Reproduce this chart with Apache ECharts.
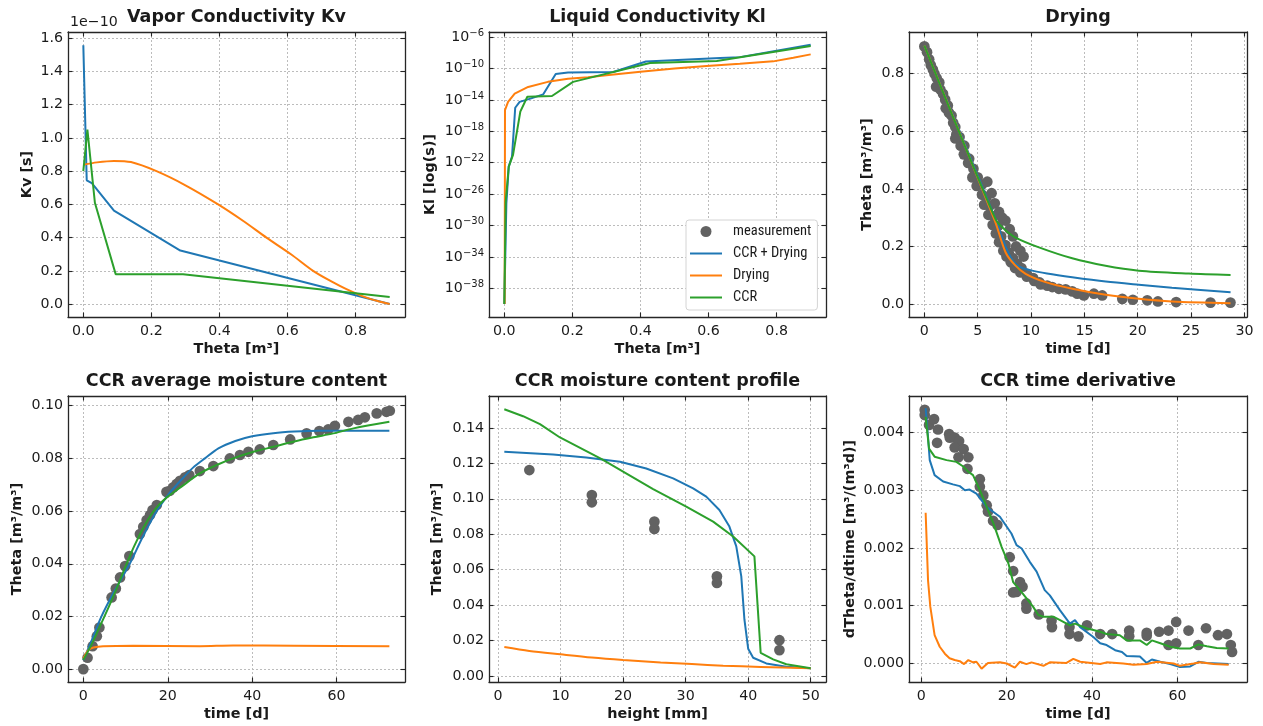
<!DOCTYPE html>
<html>
<head>
<meta charset="utf-8">
<title>CCR / Drying fits</title>
<script src="https://cdn.jsdelivr.net/npm/echarts@6/dist/echarts.min.js"></script>
<style>
    html, body {margin: 0; padding: 0; background: #fff;}
    #chartBox {width: 1263px; height: 726px;}
</style>
</head>
<body>
<div id="chartBox"></div>
<script>
/* ---------- tick values ---------- */
var thetaTicks = [0, 0.2, 0.4, 0.6, 0.8];
var kvTicks = [0, 0.2, 0.4, 0.6, 0.8, 1.0, 1.2, 1.4, 1.6];
var klExpTicks = [-38, -34, -30, -26, -22, -18, -14, -10, -6];
var dryTimeTicks = [0, 5, 10, 15, 20, 25, 30];
var dryThetaTicks = [0, 0.2, 0.4, 0.6, 0.8];
var ccrTimeTicks = [0, 20, 40, 60];
var avgThetaTicks = [0, 0.02, 0.04, 0.06, 0.08, 0.10];
var heightTicks = [0, 10, 20, 30, 40, 50];
var profThetaTicks = [0, 0.02, 0.04, 0.06, 0.08, 0.10, 0.12, 0.14];
var derivTicks = [0, 0.001, 0.002, 0.003, 0.004];

/* ---------- Vapor conductivity Kv (x1e-10) ---------- */
var kvCcrDrying = [[0, 1.558], [0.01, 0.745], [0.025, 0.728], [0.09, 0.563], [0.285, 0.322], [0.9, 0.0]];
var kvDrying = [[0, 0.838], [0.04, 0.853], [0.09, 0.862], [0.14, 0.855], [0.215, 0.8], [0.3, 0.715], [0.396, 0.6],
    [0.47, 0.5], [0.538, 0.4], [0.61, 0.3], [0.675, 0.2], [0.73, 0.135], [0.773, 0.09], [0.83, 0.04], [0.87, 0.015], [0.9, 0.0]];
var kvCcr = [[0, 0.80], [0.012, 1.05], [0.034, 0.61], [0.095, 0.18], [0.293, 0.18], [0.9, 0.042]];

/* ---------- Liquid conductivity Kl (log10 exponent) ---------- */
var klCcrDrying = [[0, -40], [0.006, -27.2], [0.013, -22.5], [0.0226, -21.2], [0.032, -15], [0.045, -14.25], [0.079, -13.8],
    [0.114, -13.3], [0.151, -10.7], [0.187, -10.5], [0.32, -10.45], [0.416, -9.1], [0.634, -8.67], [0.692, -8.55], [0.9, -6.97]];
var klDrying = [[0.001, -40], [0.002, -15.3], [0.011, -14.25], [0.0305, -13.2], [0.07, -12.35], [0.128, -11.7], [0.187, -11.3],
    [0.246, -11.1], [0.3, -10.87], [0.4, -10.4], [0.5, -10.0], [0.594, -9.68], [0.692, -9.39], [0.79, -9.09], [0.849, -8.62], [0.9, -8.2]];
var klCcr = [[0, -40], [0.004, -27], [0.013, -22.5], [0.0256, -21], [0.047, -15.5], [0.0676, -13.6], [0.14, -13.5],
    [0.202, -11.7], [0.428, -9.3], [0.624, -9.05], [0.9, -7.14]];

/* ---------- Drying ---------- */
var dryMeasured = [[0, 0.895], [0.25, 0.875], [0.45, 0.85], [0.6, 0.83], [0.8, 0.815], [0.95, 0.8], [1.15, 0.785], [1.4, 0.77],
    [1.5, 0.745], [1.75, 0.73], [1.95, 0.71], [2.2, 0.69], [2.3, 0.665], [2.55, 0.655], [2.7, 0.63], [2.9, 0.615], [3.0, 0.59],
    [3.3, 0.58], [3.4, 0.55], [3.75, 0.55], [3.7, 0.52], [4.2, 0.505], [4.1, 0.49], [4.6, 0.47], [4.5, 0.44], [5.0, 0.44],
    [4.9, 0.41], [5.4, 0.415], [5.4, 0.38], [5.8, 0.37], [5.6, 0.345], [6.1, 0.34], [6.0, 0.31], [6.5, 0.305], [6.4, 0.275],
    [6.9, 0.27], [6.7, 0.245], [7.2, 0.235], [7.6, 0.29], [8.0, 0.26], [8.3, 0.235], [7.0, 0.215], [7.6, 0.205], [8.6, 0.2],
    [7.4, 0.185], [7.9, 0.18], [9.0, 0.185], [7.7, 0.165], [8.3, 0.16], [9.3, 0.165], [8.1, 0.145], [8.7, 0.14], [8.5, 0.125],
    [9.1, 0.125], [9.0, 0.11], [9.6, 0.105], [9.6, 0.095], [10.2, 0.09], [10.3, 0.08], [10.8, 0.075], [10.9, 0.068],
    [5.9, 0.425], [6.3, 0.385], [6.6, 0.35], [7.0, 0.32], [7.3, 0.3], [1.1, 0.755], [2.0, 0.68], [2.9, 0.575],
    [11.52, 0.064], [11.99, 0.059], [12.61, 0.053], [13.24, 0.051], [13.86, 0.044], [14.33, 0.036], [14.95, 0.03],
    [15.89, 0.036], [16.67, 0.03], [18.55, 0.018], [19.54, 0.015], [20.89, 0.013], [21.89, 0.009], [23.6, 0.007],
    [26.82, 0.005], [28.69, 0.005]];
var dryCcrDrying = [[0, 0.898], [6.68, 0.294], [7.6, 0.2], [8.3, 0.15], [8.9, 0.13], [10, 0.117], [11.5, 0.106], [13.86, 0.093],
    [17, 0.078], [20.1, 0.067], [23.2, 0.057], [28.7, 0.041]];
var dryDrying = [[0, 0.898], [6.6, 0.29], [7.62, 0.179], [8.5, 0.135], [9.49, 0.105], [11.36, 0.076], [13.86, 0.053], [17, 0.032],
    [20.1, 0.018], [23.2, 0.009], [28.7, 0.003]];
var dryCcr = [[0, 0.898], [6.68, 0.294], [7.5, 0.26], [8.55, 0.231], [10.74, 0.197], [13.86, 0.159], [16.98, 0.133],
    [20.1, 0.116], [24.8, 0.106], [28.7, 0.101]];

/* ---------- CCR average moisture content ---------- */
var avgMeasured = [[0, 0.0], [1, 0.0043], [2.2, 0.0087], [3.2, 0.0125], [3.8, 0.0158], [6.7, 0.0272], [7.7, 0.0306], [8.7, 0.0348],
    [9.9, 0.0391], [10.9, 0.0429], [13.4, 0.0513], [14.2, 0.054], [15, 0.0566], [15.8, 0.0585], [16.4, 0.0604], [17.4, 0.0623],
    [19.7, 0.0673], [20.5, 0.0677], [21.3, 0.069], [22.1, 0.0703], [22.9, 0.0715], [24.1, 0.0728], [25.1, 0.0737], [27.6, 0.0752],
    [30.8, 0.0771], [34.7, 0.08], [37.1, 0.0813], [39.1, 0.0825], [41.8, 0.0834], [45, 0.0851], [49, 0.0872], [52.9, 0.0895],
    [55.9, 0.0904], [58, 0.091], [59.6, 0.0924], [62.8, 0.0939], [65.1, 0.0946], [66.7, 0.0956], [69.5, 0.0971], [71.8, 0.0977],
    [72.6, 0.0981]];
var avgCcrDrying = [[0, 0.0034], [2, 0.011], [4.3, 0.02], [7.5, 0.03], [11, 0.04], [14, 0.05], [17.4, 0.06], [20, 0.066],
    [23, 0.0715], [26, 0.0765], [28.8, 0.08], [32, 0.0838], [36, 0.0866], [40, 0.0884], [45, 0.0896], [50, 0.0902],
    [56, 0.0905], [72.5, 0.0905]];
var avgDrying = [[0, 0.004], [1.2, 0.0072], [2.4, 0.0082], [4.7, 0.0087], [11.8, 0.0089], [27.6, 0.0087], [35.5, 0.009],
    [50, 0.0089], [72.5, 0.0087]];
var avgCcr = [[0, 0.0035], [2, 0.0095], [4, 0.0165], [6, 0.0235], [8, 0.031], [10, 0.039], [12, 0.0465], [14, 0.053],
    [16, 0.0585], [18, 0.0625], [20, 0.0655], [23, 0.069], [27.6, 0.0743], [31.6, 0.0775], [35.5, 0.08], [40.3, 0.0825],
    [45, 0.0844], [49.7, 0.0863], [54.5, 0.088], [59.2, 0.0895], [64, 0.0914], [72.5, 0.0939]];

/* ---------- CCR moisture content profile ---------- */
var profMeasured = [[5, 0.1162], [15, 0.1021], [15, 0.098], [25, 0.0871], [25, 0.083], [35, 0.0562], [35, 0.0525],
    [45, 0.0202], [45, 0.0146]];
var profCcrDrying = [[1, 0.1265], [8.8, 0.125], [14.1, 0.1233], [19.5, 0.1209], [23.7, 0.1171], [28, 0.1115], [31.2, 0.1059],
    [33.3, 0.1012], [35.4, 0.0937], [37, 0.0843], [38.1, 0.0731], [38.9, 0.0562], [39.4, 0.0319], [40, 0.0154], [40.8, 0.0103],
    [42.9, 0.0071], [46.1, 0.0052], [50, 0.0043]];
var profDrying = [[1, 0.0163], [5, 0.0141], [10, 0.0122], [15, 0.0104], [20, 0.009], [26, 0.0076], [31, 0.0067], [36, 0.0058],
    [42, 0.0051], [50, 0.0043]];
var profCcr = [[1, 0.1505], [4, 0.1466], [6.7, 0.1421], [9.9, 0.1346], [16.5, 0.1225], [24.8, 0.1055], [30.1, 0.0956],
    [34.4, 0.0871], [37.6, 0.0787], [41, 0.0675], [42, 0.0131], [44, 0.0094], [46.1, 0.0066], [50, 0.0043]];

/* ---------- CCR time derivative ---------- */
var derivMeasured = [[0.78, 0.00439], [0.78, 0.0043], [1.8, 0.00413], [2.97, 0.00423], [3.9, 0.00405], [3.68, 0.00382],
    [6.5, 0.00397], [6.65, 0.00391], [7.8, 0.00391], [8.84, 0.00385], [7.8, 0.00374], [9.9, 0.00371], [8.7, 0.00357],
    [11, 0.00357], [10.8, 0.00337], [13.7, 0.00319], [13.7, 0.00306], [14.5, 0.00291], [15.3, 0.00274], [15.6, 0.00263],
    [16.8, 0.00247], [17.8, 0.0024], [20.7, 0.00184], [21.5, 0.0016], [21.5, 0.00123], [22.3, 0.00124], [23.1, 0.00141],
    [23.7, 0.00133], [24.6, 0.00104], [24.6, 0.00095], [27.5, 0.00085], [30.5, 0.00074], [30.6, 0.00063], [34.7, 0.00063],
    [34.7, 0.00051], [36.8, 0.00047], [38.8, 0.00066], [41.9, 0.00051], [44.7, 0.00051], [48.7, 0.00057], [48.7, 0.00047],
    [52.8, 0.00053], [52.8, 0.00048], [55.7, 0.00055], [57.9, 0.00057], [57.9, 0.00032], [59.7, 0.00072], [59.7, 0.00035],
    [62.6, 0.00057], [64.9, 0.00032], [66.7, 0.00061], [69.5, 0.00049], [71.6, 0.00051], [72.5, 0.00032], [72.8, 0.0002]];
var derivCcrDrying = [[1, 0.00442], [1.56, 0.00392], [1.96, 0.00352], [3.1, 0.00326], [5.1, 0.00315], [7.4, 0.0031], [9, 0.00307],
    [10.2, 0.003], [11.3, 0.00301], [12.9, 0.00294], [15.3, 0.00271], [18.4, 0.00254], [21.1, 0.00225], [22.3, 0.00205],
    [23.5, 0.00199], [25.4, 0.00176], [27, 0.00159], [28.9, 0.00127], [30.1, 0.00118], [32.5, 0.00092], [34.8, 0.00069],
    [36, 0.00075], [37.2, 0.00063], [40.3, 0.00046], [41.9, 0.00035], [43.4, 0.00032], [45.4, 0.00023], [47, 0.0002],
    [48.1, 0.00013], [51.2, 0.00012], [52.8, 0.00001], [54, 0.00007], [56, 0.00003], [58.3, -0.00001], [60.6, -0.00006],
    [63, -0.00005], [64.9, 0.00003], [66.9, 0.00001], [72, -0.00001]];
var derivDrying = [[1, 0.00261], [1.56, 0.00144], [2.1, 0.00098], [3.1, 0.00049], [4.3, 0.00029], [5.5, 0.00017], [6.6, 0.00009],
    [7.8, 0.00006], [9, 0.00004], [10, -0.00001], [11, 0.00006], [12.1, 0.00002], [12.9, 0.00003], [14.1, -0.00009],
    [15.6, 0.00001], [18.4, 0.00002], [20, 0.0], [21.9, -0.00007], [23.1, 0.00003], [24.6, -0.00001], [25.8, 0.00002],
    [28.6, -0.00004], [30.1, 0.00002], [34, 0.00001], [35.6, 0.00008], [37.2, 0.00003], [41.9, -0.00001], [43.4, 0.00002],
    [47.3, 0], [49.7, -0.00002], [52.8, -0.00001], [55.2, 0.00003], [59.1, 0], [60.6, -0.00004], [63.8, 0], [65.3, 0.00002],
    [68.5, -0.00001], [72, -0.00002]];
var derivCcr = [[1, 0.00427], [1.8, 0.00372], [3.1, 0.00358], [5.9, 0.00352], [8.2, 0.00349], [9.8, 0.00341], [11, 0.00332],
    [12.1, 0.00326], [13.7, 0.003], [15.3, 0.00271], [16.9, 0.00242], [18.8, 0.00202], [20.4, 0.00173], [21.5, 0.00141],
    [23.1, 0.00127], [24.6, 0.00113], [26.2, 0.00098], [27.4, 0.00084], [28.6, 0.00081], [30.9, 0.00081], [32.5, 0.00075],
    [34.8, 0.00066], [36, 0.00069], [38.7, 0.00061], [41.9, 0.00055], [43.4, 0.00051], [46.5, 0.00049], [48.1, 0.0004],
    [51.2, 0.0004], [52.8, 0.00032], [54, 0.0004], [56, 0.00035], [58.3, 0.00029], [60.6, 0.00026], [63, 0.00026],
    [64.9, 0.00033], [66.9, 0.0003], [69.2, 0.00027], [72, 0.00026]];

(function(){
    var FONT = 'DejaVu Sans',
        FRAME = '#262626',
        TXT = '#1a1a1a',
        C_BLUE = '#1f77b4', C_ORANGE = '#ff7f0e', C_GREEN = '#2ca02c', C_DOT = '#626262';

    function fixed(d){
        return function(v){ return Number(v).toFixed(d); };
    }

    // 10 with a raised exponent (rich text)
    function pow10(v){
        return '{b|10}{e|' + String(Math.round(v)).replace('-', '−') + '}';
    }

    var _panels = [
        {title: 'Vapor Conductivity Kv', box: [68, 32, 337, 285], x: [-0.045, 0.945], y: [-0.078, 1.638],
            xTicks: thetaTicks, yTicks: kvTicks, xFmt: fixed(1), yFmt: fixed(1), xName: 'Theta [m³]', yName: 'Kv [s]', yGap: 34,
            lines: [kvCcrDrying, kvDrying, kvCcr], smooth: [false, 0.3, false]},
        {title: 'Liquid Conductivity Kl', box: [489, 32, 337, 285], x: [-0.045, 0.945], y: [-41.65, -5.35],
            xTicks: thetaTicks, yTicks: klExpTicks, xFmt: fixed(1), yFmt: pow10, xName: 'Theta [m³]', yName: 'Kl [log(s)]', yGap: 52,
            lines: [klCcrDrying, klDrying, klCcr], smooth: [false, false, false]},
        {title: 'Drying', box: [909, 32, 338, 285], x: [-1.44, 30.24], y: [-0.045, 0.945],
            xTicks: dryTimeTicks, yTicks: dryThetaTicks, xFmt: fixed(0), yFmt: fixed(1), xName: 'time [d]', yName: 'Theta [m³/m³]', yGap: 35,
            dots: dryMeasured, lines: [dryCcrDrying, dryDrying, dryCcr], smooth: [0.3, 0.3, 0.3]},
        {title: 'CCR average moisture content', box: [68, 396, 337, 286], x: [-3.63, 76.2], y: [-0.0049, 0.1037],
            xTicks: ccrTimeTicks, yTicks: avgThetaTicks, xFmt: fixed(0), yFmt: fixed(2), xName: 'time [d]', yName: 'Theta [m³/m³]', yGap: 44,
            dots: avgMeasured, lines: [avgCcrDrying, avgDrying, avgCcr], smooth: [0.3, 0.3, 0.3]},
        {title: 'CCR moisture content profile', box: [489, 396, 337, 286], x: [-1.45, 52.45], y: [-0.0034, 0.158],
            xTicks: heightTicks, yTicks: profThetaTicks, xFmt: fixed(0), yFmt: fixed(2), xName: 'height [mm]', yName: 'Theta [m³/m³]', yGap: 45,
            dots: profMeasured, lines: [profCcrDrying, profDrying, profCcr], smooth: [false, 0.3, false]},
        {title: 'CCR time derivative', box: [909, 396, 338, 286], x: [-2.9, 76.3], y: [-0.00032, 0.00463],
            xTicks: ccrTimeTicks, yTicks: derivTicks, xFmt: fixed(0), yFmt: fixed(3), xName: 'time [d]', yName: 'dTheta/dtime [m³/(m³d)]', yGap: 52,
            dots: derivMeasured, lines: [derivCcrDrying, derivDrying, derivCcr], smooth: [false, false, false]}
    ];

    var _names = ['CCR + Drying', 'Drying', 'CCR'],
        _colors = [C_BLUE, C_ORANGE, C_GREEN];

    function makeAxis(p, i, dim, twin){
        var ticks = dim === 'x' ? p.xTicks : p.yTicks,
            range = dim === 'x' ? p.x : p.y;
        var axis = {
            type: 'value',
            gridIndex: i,
            position: dim === 'x' ? (twin ? 'top' : 'bottom') : (twin ? 'right' : 'left'),
            min: range[0],
            max: range[1],
            axisLine: {show: true, onZero: false, lineStyle: {color: FRAME, width: 1.3}},
            axisTick: {show: true, inside: true, length: 4.5, customValues: ticks, lineStyle: {color: FRAME, width: 1.1}},
            axisLabel: {show: !twin, customValues: ticks, formatter: dim === 'x' ? p.xFmt : p.yFmt,
                margin: dim === 'x' ? 7 : 5, color: TXT, fontFamily: FONT, fontSize: 14.2,
                rich: {
                    b: {fontFamily: FONT, fontSize: 14.2, color: TXT, lineHeight: 18, verticalAlign: 'middle'},
                    e: {fontFamily: FONT, fontSize: 10, color: TXT, lineHeight: 10, verticalAlign: 'top'}
                }},
            splitLine: {show: !twin, lineStyle: {color: '#bcbcbc', width: 1, type: [2, 2]}}
        };
        if(!twin){
            axis.name = dim === 'x' ? p.xName : p.yName;
            axis.nameLocation = 'middle';
            axis.nameGap = dim === 'x' ? 25 : p.yGap;
            axis.nameTextStyle = {fontFamily: FONT, fontWeight: 'bold', fontSize: 14.4, color: TXT};
        }
        return axis;
    }

    function getParams(){
        var grid = [], xAxis = [], yAxis = [], series = [], title = [];
        _panels.forEach(function(p, i){
            grid.push({left: p.box[0], top: p.box[1], width: p.box[2], height: p.box[3]});
            xAxis.push(makeAxis(p, i, 'x', false), makeAxis(p, i, 'x', true));
            yAxis.push(makeAxis(p, i, 'y', false), makeAxis(p, i, 'y', true));
            title.push({
                text: p.title, left: p.box[0] + p.box[2] / 2, top: p.box[1] - 24, textAlign: 'center', padding: 0,
                textStyle: {fontFamily: FONT, fontWeight: 'bold', fontSize: 17.5, color: TXT}
            });
            if(p.dots){
                series.push({
                    name: 'measurement', type: 'scatter', xAxisIndex: 2 * i, yAxisIndex: 2 * i,
                    symbolSize: 10.7, itemStyle: {color: C_DOT, opacity: 1}, data: p.dots, z: 2
                });
            }
            p.lines.forEach(function(d, k){
                series.push({
                    name: _names[k], type: 'line', xAxisIndex: 2 * i, yAxisIndex: 2 * i,
                    showSymbol: false, symbol: 'none', smooth: p.smooth[k],
                    lineStyle: {color: _colors[k], width: 2}, itemStyle: {color: _colors[k]},
                    data: d, z: 3 + k
                });
            });
        });
        // scale factor text of the Kv axis
        title.push({
            text: '1e−10', left: 70, top: 15, padding: 0,
            textStyle: {fontFamily: FONT, fontWeight: 'normal', fontSize: 14.2, color: TXT}
        });
        var _lineIcon = 'path://M0,0H32V2H0Z';
        return {
            animation: false,
            backgroundColor: '#ffffff',
            title: title,
            grid: grid,
            xAxis: xAxis,
            yAxis: yAxis,
            legend: {
                data: [
                    {name: 'measurement', icon: 'circle'},
                    {name: 'CCR + Drying', icon: _lineIcon},
                    {name: 'Drying', icon: _lineIcon},
                    {name: 'CCR', icon: _lineIcon}
                ],
                orient: 'vertical', left: 686, top: 220,
                padding: [4, 6, 5, 4], itemGap: 7, itemWidth: 32, itemHeight: 11,
                backgroundColor: '#ffffff', borderColor: '#d4d4d4', borderWidth: 1, borderRadius: 3,
                textStyle: {fontFamily: "'Roboto Condensed', Roboto", fontSize: 14.5, color: TXT, padding: [0, 0, 0, 6]}
            },
            series: series
        };
    }

    var _chart = echarts.init(document.getElementById('chartBox'), null, {renderer: 'canvas'});
    _chart.setOption(getParams());
})();
</script>
</body>
</html>
